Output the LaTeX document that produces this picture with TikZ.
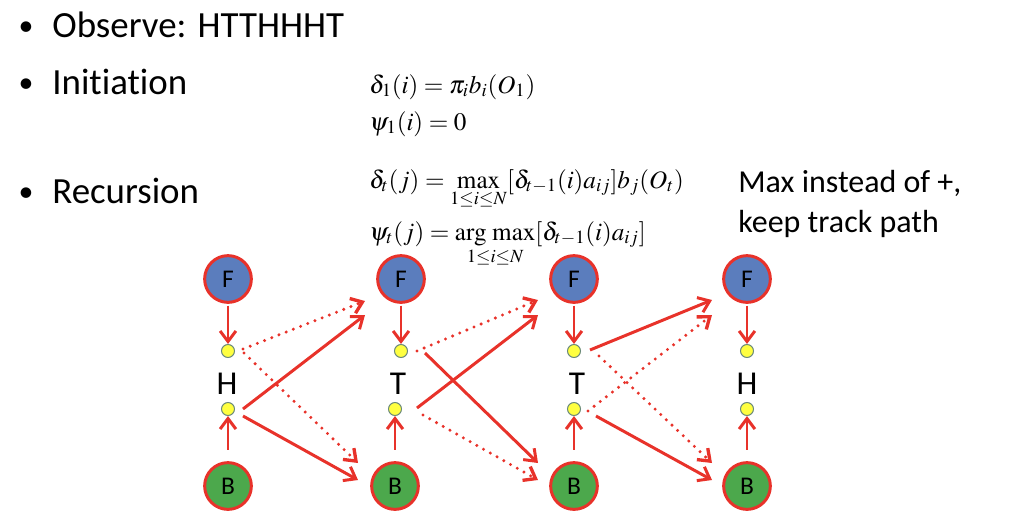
\documentclass[tikz,border=0pt]{standalone}
\usepackage{amsmath}
\usepackage{mathptmx}
\usepackage[no-math]{fontspec}
\setmainfont{Carlito}[Ligatures=CommonOff]
\usetikzlibrary{arrows.meta,calc}
\definecolor{hmmred}{HTML}{E8322A}
\definecolor{fairblue}{HTML}{5B7DBD}
\definecolor{biasgreen}{HTML}{4CA84C}
\definecolor{dotyellow}{HTML}{FFFF40}
\definecolor{dotrim}{HTML}{6B8A7A}

\begin{document}
\begin{tikzpicture}[x=0.02cm, y=-0.02cm, >={Straight Barb[length=6pt,width=9pt]},
                    coin/.style={circle, draw=hmmred, line width=1.7pt, minimum size=26.6pt,
                                 inner sep=0pt, font=\fontsize{14.5}{14.5}\selectfont},
                    fair/.style={coin, fill=fairblue},
                    biased/.style={coin, fill=biasgreen},
                    emit/.style={circle, draw=dotrim, fill=dotyellow, line width=0.6pt,
                                 minimum size=7.4pt, inner sep=0pt},
                    obs/.style={font=\fontsize{19}{19}\selectfont, anchor=base, inner sep=0pt},
                    txt/.style={font=\fontsize{21}{24}\selectfont, anchor=base west, inner sep=0pt},
                    dot/.style={font=\fontsize{17}{20}\selectfont, anchor=base, inner sep=0pt},
                    note/.style={font=\fontsize{18.2}{22}\selectfont, anchor=base west, inner sep=0pt},
                    eq/.style={font=\fontsize{14.3}{16}\selectfont, anchor=base west, inner sep=0pt},
                    hard/.style={draw=hmmred, line width=1.7pt},
                    soft/.style={draw=hmmred, line width=1.9pt, line cap=round, dash pattern=on 0pt off 4.4pt}]

\useasboundingbox (0,0) rectangle (1015,522);

% bullet list
\node[dot] (bul1) at (26,35) {\textbullet};
\node[txt] (observe) at (52,37) {Observe: HTTHHHT};
\node[dot] (bul2) at (26,92) {\textbullet};
\node[txt] (init) at (52,94) {Initiation};
\node[dot] (bul3) at (26,201) {\textbullet};
\node[txt] (recur) at (52,203) {Recursion};

% formulas
\node[eq] (delta1) at (369,93) {$\delta_1(i) = \pi_i b_i(O_1)$};
\node[eq] (psi1) at (369,130) {$\psi_1(i) = 0$};
\node[eq] (deltat) at (369,188) {$\delta_t(j) = \max\limits_{1\le i\le N}[\delta_{t-1}(i)a_{ij}]b_j(O_t)$};
\node[eq] (psit) at (369,240) {$\psi_t(j) = \mathop{\mathrm{arg}\,\max}\limits_{1\le i\le N}[\delta_{t-1}(i)a_{ij}]$};

\node[note] (max1) at (738,192) {Max instead of +,};
\node[note] (max2) at (738,232) {keep track path};

% trellis
\node[fair] (F1) at (228,279) {F};
\node[fair] (F2) at (401,279) {F};
\node[fair] (F3) at (574,279) {F};
\node[fair] (F4) at (747,279) {F};

\node[biased] (B1) at (228,486) {B};
\node[biased] (B2) at (395,486) {B};
\node[biased] (B3) at (574,486) {B};
\node[biased] (B4) at (747,486) {B};

\node[emit] (u1) at (228,351) {};
\node[emit] (u2) at (401,351) {};
\node[emit] (u3) at (574,351) {};
\node[emit] (u4) at (747,351) {};

\node[emit] (l1) at (228,409) {};
\node[emit] (l2) at (395,409) {};
\node[emit] (l3) at (574,409) {};
\node[emit] (l4) at (747,409) {};

\node[obs] (o1) at (227,394) {H};
\node[obs] (o2) at (398,394) {T};
\node[obs] (o3) at (577,394) {T};
\node[obs] (o4) at (747,394) {H};

\coordinate (fa2) at (365,301);
\coordinate (fb2) at (365,315);
\coordinate (ba2) at (358,463);
\coordinate (bb2) at (358,480);
\coordinate (fa3) at (538,300);
\coordinate (fb3) at (538,315);
\coordinate (ba3) at (538,463);
\coordinate (bb3) at (538,480);
\coordinate (fa4) at (712,300);
\coordinate (fb4) at (712,315);
\coordinate (ba4) at (712,463);
\coordinate (bb4) at (712,480);

\path[->]
(F1) edge [hard, shorten <=1pt] (u1)
(F2) edge [hard, shorten <=1pt] (u2)
(F3) edge [hard, shorten <=1pt] (u3)
(F4) edge [hard, shorten <=1pt] (u4)
(B1) edge [hard, shorten <=6.5pt] (l1)
(B2) edge [hard, shorten <=6.5pt] (l2)
(B3) edge [hard, shorten <=6.5pt] (l3)
(B4) edge [hard, shorten <=6.5pt] (l4);

\path[->]
($(l1)+(15,0)$) edge [hard] (fb2)
($(l1)+(15,7)$) edge [hard] (bb2)
($(u2)+(24,2)$) edge [hard] (ba3)
($(l2)+(22,-1)$) edge [hard] (fb3)
($(u3)+(16,-1)$) edge [hard] (fa4)
($(l3)+(22,7)$) edge [hard] (bb4);

\path[->]
($(u1)+(15,-2)$) edge [soft] (fa2)
($(u1)+(16,2)$) edge [soft] (ba2)
($(u2)+(16,0)$) edge [soft] (fa3)
($(l2)+(28,6)$) edge [soft] (bb3)
($(u3)+(25,5)$) edge [soft] (ba4)
($(l3)+(14,2)$) edge [soft] (fb4);
\end{tikzpicture}
\end{document}
